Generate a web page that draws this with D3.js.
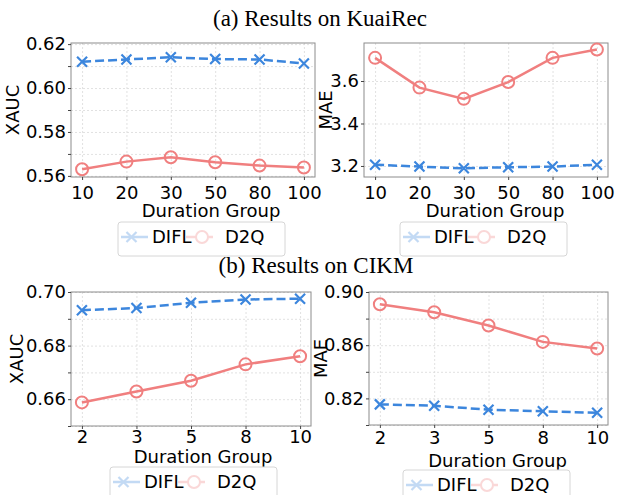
<!DOCTYPE html>
<html>
<head>
<meta charset="utf-8">
<script src="https://cdn.jsdelivr.net/npm/d3@7"></script>
<style>
  body { margin: 0; background: #fff; }
  text { font-family: "DejaVu Sans", sans-serif; fill: #000; }
  .title { font-family: "Liberation Serif", "Times New Roman", serif; font-size: 23px; }
  .grid line { stroke: #d9d9d9; stroke-dasharray: 2,2; stroke-width: 0.8; }
  .grid path { display: none; }
</style>
</head>
<body>
<script>
var w = 623;
var h = 495;

// data
var kuaiGroups = ["10", "20", "30", "50", "80", "100"];
var kuaiXaucDifl = [0.6120, 0.6130, 0.6140, 0.6132, 0.6130, 0.6112];
var kuaiXaucD2q  = [0.5630, 0.5665, 0.5685, 0.5662, 0.5647, 0.5638];
var kuaiMaeDifl  = [3.206, 3.197, 3.189, 3.194, 3.197, 3.206];
var kuaiMaeD2q   = [3.709, 3.569, 3.516, 3.595, 3.709, 3.748];

var cikmGroups = ["2", "3", "5", "8", "10"];
var cikmXaucDifl = [0.6932, 0.6940, 0.6960, 0.6972, 0.6975];
var cikmXaucD2q  = [0.6588, 0.6629, 0.6669, 0.6730, 0.6760];
var cikmMaeDifl  = [0.8155, 0.8145, 0.8115, 0.8103, 0.8092];
var cikmMaeD2q   = [0.8908, 0.8848, 0.8748, 0.8625, 0.8575];

// y ticks and their labels
var kuaiXaucTicks  = [0.56, 0.57, 0.58, 0.59, 0.60, 0.61, 0.62];
var kuaiXaucLabels = ["0.56", "", "0.58", "", "0.60", "", "0.62"];
var kuaiMaeTicks   = [3.2, 3.4, 3.6];
var kuaiMaeLabels  = ["3.2", "3.4", "3.6"];
var cikmXaucTicks  = [0.65, 0.66, 0.67, 0.68, 0.69, 0.70];
var cikmXaucLabels = ["", "0.66", "", "0.68", "", "0.70"];
var cikmMaeTicks   = [0.80, 0.82, 0.84, 0.86, 0.88, 0.90];
var cikmMaeLabels  = ["", "0.82", "", "0.86", "", "0.90"];

var seriesNames = ["DIFL", "D2Q"];
var titles = ["(a) Results on KuaiRec", "(b) Results on CIKM"];

var blue = "#3c86dd";
var red = "#f07f7f";

var svg = d3.select("body")
            .append("svg")
            .attr("width", w)
            .attr("height", h);

svg.append("text").attr("class", "title")
   .attr("x", 320).attr("y", 26).attr("text-anchor", "middle")
   .text(titles[0]);
svg.append("text").attr("class", "title")
   .attr("x", 316).attr("y", 273).attr("text-anchor", "middle")
   .text(titles[1]);

var panels = [
  {groups: kuaiGroups, difl: kuaiXaucDifl, d2q: kuaiXaucD2q, ticks: kuaiXaucTicks, labels: kuaiXaucLabels,
   domain: [0.5595, 0.6205], label: "XAUC", x0: 71, x1: 315, y0: 43, y1: 177, labelX: 13,
   tickPad: 6, xlabDx: 18, xlabY: 217, legX: 118, legY: 222},
  {groups: kuaiGroups, difl: kuaiMaeDifl, d2q: kuaiMaeD2q, ticks: kuaiMaeTicks, labels: kuaiMaeLabels,
   domain: [3.148, 3.779], label: "MAE", x0: 364, x1: 608, y0: 43, y1: 177, labelX: 326,
   tickPad: 6, xlabDx: 9, xlabY: 217, legX: 400, legY: 222},
  {groups: cikmGroups, difl: cikmXaucDifl, d2q: cikmXaucD2q, ticks: cikmXaucTicks, labels: cikmXaucLabels,
   domain: [0.65, 0.70], label: "XAUC", x0: 71, x1: 311, y0: 292, y1: 426, labelX: 17,
   tickPad: 1, xlabDx: 12, xlabY: 463, legX: 110, legY: 467},
  {groups: cikmGroups, difl: cikmMaeDifl, d2q: cikmMaeD2q, ticks: cikmMaeTicks, labels: cikmMaeLabels,
   domain: [0.80, 0.90], label: "MAE", x0: 369, x1: 608, y0: 292, y1: 425, labelX: 321,
   tickPad: 3, xlabDx: 9, xlabY: 467, legX: 403, legY: 470}
];

panels.forEach(function(p){
  var n = p.groups.length;
  var x = d3.scalePoint().domain(p.groups).range([p.x0, p.x1]).padding(0.05 * (n - 1));
  var y = d3.scaleLinear().domain(p.domain).range([p.y1, p.y0]);
  var g = svg.append("g");

  // grid
  g.append("g").attr("class", "grid")
   .attr("transform", "translate(" + p.x0 + ",0)")
   .call(d3.axisLeft(y).tickValues(p.ticks).tickSize(-(p.x1 - p.x0)).tickFormat(""));
  g.append("g").attr("class", "grid")
   .attr("transform", "translate(0," + p.y1 + ")")
   .call(d3.axisBottom(x).tickSize(-(p.y1 - p.y0)).tickFormat(""));

  // frame
  g.append("rect")
   .attr("x", p.x0).attr("y", p.y0)
   .attr("width", p.x1 - p.x0).attr("height", p.y1 - p.y0)
   .attr("fill", "none").attr("stroke", "#8c8c8c").attr("stroke-width", 1);

  // axes
  var ya = g.append("g")
   .attr("transform", "translate(" + p.x0 + ",0)")
   .call(d3.axisLeft(y).tickValues(p.ticks).tickSize(3).tickPadding(2)
           .tickFormat(function(d, i){ return p.labels[i]; }));
  var xa = g.append("g")
   .attr("transform", "translate(0," + p.y1 + ")")
   .call(d3.axisBottom(x).tickSize(3).tickPadding(p.tickPad));
  [ya, xa].forEach(function(a){
    a.select(".domain").remove();
    a.selectAll(".tick line").attr("stroke", "#444");
    a.selectAll("text").style("font-size", "18px").attr("fill", "#000");
  });

  // axis titles
  g.append("text")
   .attr("x", (p.x0 + p.x1) / 2 + p.xlabDx).attr("y", p.xlabY)
   .attr("text-anchor", "middle").style("font-size", "18px")
   .text("Duration Group");
  g.append("text")
   .attr("transform", "translate(" + p.labelX + "," + ((p.y0 + p.y1) / 2) + ") rotate(-90)")
   .attr("text-anchor", "middle").attr("dy", "0.35em").style("font-size", "18px")
   .text(p.label);

  var line = d3.line()
    .x(function(d, i){ return x(p.groups[i]); })
    .y(function(d){ return y(d); });

  // DIFL
  g.append("path").datum(p.difl)
   .attr("d", line).attr("fill", "none")
   .attr("stroke", blue).attr("stroke-width", 2.5)
   .attr("stroke-dasharray", "9,4");
  g.selectAll(".xm").data(p.difl).enter()
   .append("path").attr("class", "xm")
   .attr("transform", function(d, i){ return "translate(" + x(p.groups[i]) + "," + y(d) + ")"; })
   .attr("d", "M-5,-5L5,5M-5,5L5,-5")
   .attr("stroke", blue).attr("stroke-width", 2.2).attr("fill", "none");

  // D2Q
  g.append("path").datum(p.d2q)
   .attr("d", line).attr("fill", "none")
   .attr("stroke", red).attr("stroke-width", 2.5);
  g.selectAll(".om").data(p.d2q).enter()
   .append("circle").attr("class", "om")
   .attr("cx", function(d, i){ return x(p.groups[i]); })
   .attr("cy", function(d){ return y(d); })
   .attr("r", 6).attr("fill", "none")
   .attr("stroke", red).attr("stroke-width", 2);

  // legend
  var lg = g.append("g").attr("transform", "translate(" + p.legX + "," + p.legY + ")");
  lg.append("rect")
   .attr("width", 167).attr("height", 34).attr("rx", 3)
   .attr("fill", "#fff").attr("stroke", "#d6d6d6");
  var items = [{name: seriesNames[0], c: blue, m: "x", x: 3}, {name: seriesNames[1], c: red, m: "o", x: 68}];
  items.forEach(function(it){
    var ig = lg.append("g").attr("transform", "translate(" + it.x + ",15)").attr("opacity", 0.3);
    ig.append("line").attr("x1", 0).attr("x2", 27).attr("stroke", it.c).attr("stroke-width", 2.5);
    if (it.m === "x") {
      ig.append("path").attr("d", "M5.5,-5L15.5,5M5.5,5L15.5,-5").attr("stroke", it.c).attr("stroke-width", 2.2);
    } else {
      ig.append("circle").attr("cx", 16).attr("r", 6).attr("fill", "#fff").attr("stroke", it.c).attr("stroke-width", 2);
    }
    lg.append("text").attr("x", it.x + 31 + (it.m === "o" ? 8 : 0)).attr("y", 15).attr("dy", "0.35em")
      .style("font-size", "18px").text(it.name);
  });
});
</script>
</body>
</html>
